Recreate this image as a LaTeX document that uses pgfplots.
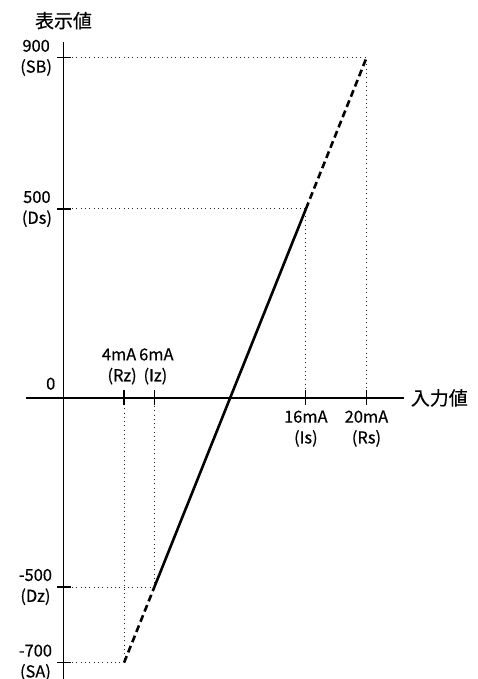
\documentclass[border=0pt]{standalone}
\usepackage{pgfplots}
\pgfplotsset{compat=1.18}
\usepackage{fontspec}
\setmainfont{Noto Sans CJK JP}[FakeBold=0.5]
\begin{document}
\begin{tikzpicture}
\begin{axis}[
  scale only axis,
  width=378.4bp, height=637.7bp,
  xmin=-2.48, xmax=22.5, ymin=-745, ymax=942,
  axis lines=middle,
  axis line style={-, line width=1.2bp},
  major tick length=0bp,
  tick label style={font=\fontsize{16.5}{21}\selectfont, align=center},
  xtick={16,20},
  xticklabels={{16mA\\(Is)},{20mA\\(Rs)}},
  xticklabel style={yshift=-9bp},
  extra x ticks={4,6},
  extra x tick labels={{4mA\hspace*{10bp}\\(Rz)\hspace*{4bp}},{\hspace*{4bp}6mA\\\hspace*{2bp}(Iz)}},
  extra x tick style={xticklabel style={anchor=south, yshift=19bp}},
  ytick={-700,-500,500,900},
  yticklabels={{-700\\(SA)},{-500\\(Dz)},{500\\(Ds)},{900\\(SB)}},
  yticklabel style={xshift=-8bp},
  xlabel={入力値},
  ylabel={表示値},
  xlabel style={at={(current axis.right of origin)}, anchor=west, font=\fontsize{19}{22}\selectfont, xshift=3bp},
  ylabel style={at={(current axis.above origin)}, anchor=south, rotate=0, font=\fontsize{19}{22}\selectfont, yshift=9bp},
  clip=false,
]
\coordinate (O) at (axis cs:0,0);
% guide lines
\addplot[black!85, line width=1bp, dash pattern=on 1bp off 3.3bp] coordinates {(0,900) (20,900) (20,0)};
\addplot[black!85, line width=1bp, dash pattern=on 1bp off 3.3bp] coordinates {(0,500) (16,500) (16,0)};
\addplot[black!85, line width=1bp, dash pattern=on 1bp off 3.3bp] coordinates {(0,-500) (6,-500) (6,0)};
\addplot[black!85, line width=1bp, dash pattern=on 1bp off 3.3bp] coordinates {(0,-700) (4,-700) (4,0)};
% characteristic line
\addplot[black, line width=2.6bp, dash pattern=on 7bp off 4bp] coordinates {(4,-700) (6,-500)};
\addplot[black, line width=2.6bp] coordinates {(6,-500) (16,500)};
\addplot[black, line width=2.6bp, dash pattern=on 7bp off 4bp] coordinates {(16,500) (20,900)};
% tick marks crossing the axes
\addplot[only marks, mark=|, mark size=7.5bp, mark options={line width=1.2bp, black}] coordinates {(4,0) (6,0) (16,0) (20,0)};
\addplot[only marks, mark=-, mark size=7bp, mark options={line width=1.2bp, black}] coordinates {(0,-700) (0,-500) (0,500) (0,900)};
\node[anchor=south east, inner sep=0pt, font=\fontsize{16.5}{21}\selectfont] at (axis cs:0,0) [xshift=-8bp, yshift=8bp] {0};
\end{axis}
\pgfresetboundingbox
\path (O) ++(-63.5bp,-281bp) rectangle ++(478bp,679bp);
\end{tikzpicture}
\end{document}
